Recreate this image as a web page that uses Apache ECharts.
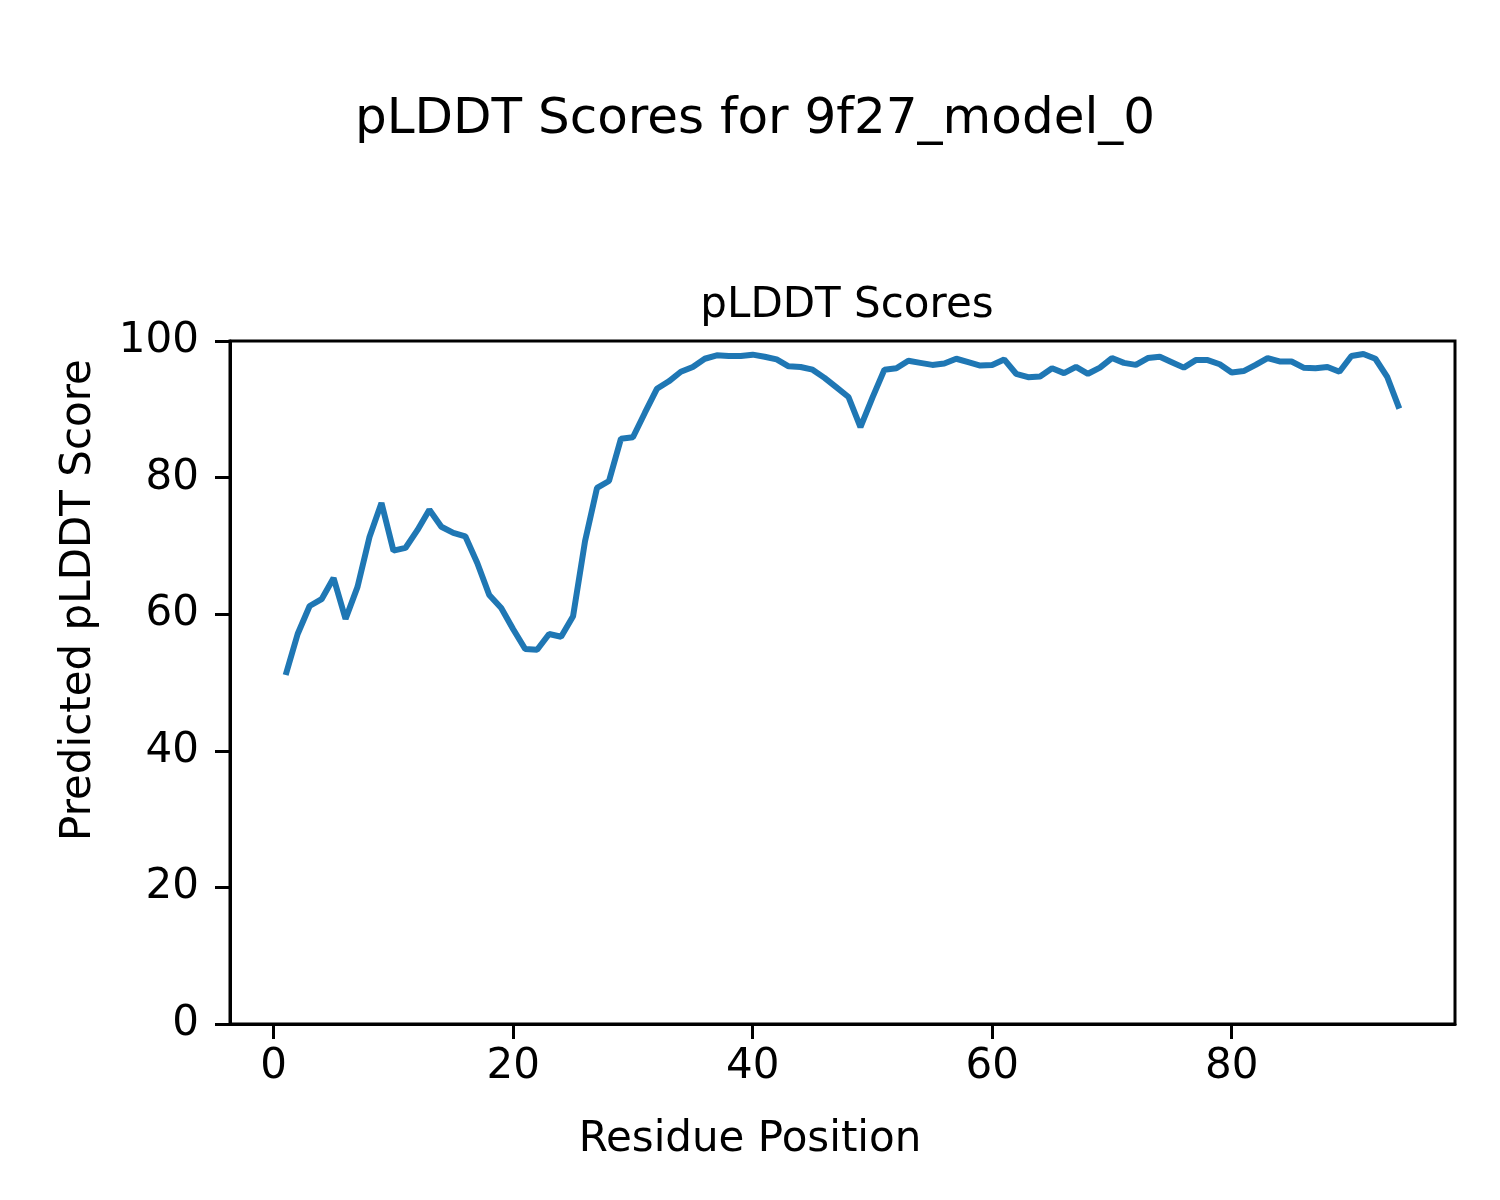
<!DOCTYPE html>
<html>
<head>
<meta charset="utf-8">
<script src="https://cdn.jsdelivr.net/npm/echarts@6/dist/echarts.min.js"></script>
<style>
html,body{margin:0;padding:0;background:#fff;}
#chart{width:1500px;height:1200px;}
</style>
</head>
<body>
<div id="chart"></div>
<script>
const residues = [];
for (let i = 1; i <= 94; i++) residues.push(i);
const plddt = [
  51.1, 57.1, 61.2, 62.2, 65.3, 59.3, 64.0, 71.3, 76.3, 69.3,
  69.7, 72.3, 75.3, 72.8, 71.9, 71.4, 67.5, 62.8, 60.9, 57.8,
  54.9, 54.8, 57.1, 56.7, 59.7, 70.7, 78.5, 79.5, 85.7, 85.9,
  89.5, 93.0, 94.1, 95.5, 96.2, 97.4, 97.9, 97.8, 97.8, 98.0,
  97.7, 97.3, 96.3, 96.2, 95.8, 94.6, 93.2, 91.8, 87.4, 91.7,
  95.8, 96.0, 97.1, 96.8, 96.5, 96.7, 97.4, 96.9, 96.4, 96.5,
  97.3, 95.2, 94.7, 94.8, 96.0, 95.3, 96.2, 95.2, 96.1, 97.5,
  96.8, 96.5, 97.5, 97.7, 96.9, 96.1, 97.2, 97.2, 96.6, 95.4,
  95.6, 96.5, 97.5, 97.0, 97.0, 96.1, 96.0, 96.2, 95.5, 97.8,
  98.1, 97.4, 94.7, 90.1
];
const xTicks = [0, 20, 40, 60, 80];
const yTicks = [0, 20, 40, 60, 80, 100];

const FONT = 'DejaVu Sans';
const chart = echarts.init(document.getElementById('chart'), null, {renderer: 'canvas'});
chart.setOption({
  backgroundColor: '#ffffff',
  animation: false,
  title: [
    {text: 'pLDDT Scores for 9f27_model_0', left: 750, top: 90, textAlign: 'center',
     textStyle: {fontFamily: FONT, fontSize: 50, fontWeight: 'normal', color: '#000'}},
    {text: 'pLDDT Scores', left: 842, top: 280, textAlign: 'center',
     textStyle: {fontFamily: FONT, fontSize: 42, fontWeight: 'normal', color: '#000'}}
  ],
  grid: {left: 230, right: 45, top: 341, bottom: 176, containLabel: false},
  xAxis: {
    type: 'value', min: -3.65, max: 98.65,
    axisLine: {show: true, onZero: false, lineStyle: {color: '#000', width: 3}},
    axisTick: {show: true, customValues: xTicks, length: 15, lineStyle: {color: '#000', width: 3}},
    axisLabel: {customValues: xTicks, margin: 22, fontFamily: FONT, fontSize: 42, color: '#000'},
    splitLine: {show: false}
  },
  yAxis: {
    type: 'value', min: 0, max: 100, interval: 20,
    axisLine: {show: true, onZero: false, lineStyle: {color: '#000', width: 3}},
    axisTick: {show: true, length: 15, lineStyle: {color: '#000', width: 3}},
    axisLabel: {margin: 31, fontFamily: FONT, fontSize: 42, color: '#000'},
    splitLine: {show: false}
  },
  series: [{
    type: 'line',
    data: residues.map((r, i) => [r, plddt[i]]),
    showSymbol: false,
    lineStyle: {color: '#1f77b4', width: 6},
    itemStyle: {color: '#1f77b4'}
  }],
  graphic: [
    {type: 'rect', shape: {x: 230, y: 341, width: 1225, height: 683}, style: {fill: 'none', stroke: '#000', lineWidth: 3}, silent: true, z: 10},
    {type: 'text', x: 750, y: 1140, silent: true,
     style: {text: 'Residue Position', fontFamily: FONT, fontSize: 42, fill: '#000', textAlign: 'center', textVerticalAlign: 'middle'}},
    {type: 'text', x: 79, y: 600, rotation: Math.PI / 2, silent: true,
     style: {text: 'Predicted pLDDT Score', fontFamily: FONT, fontSize: 42, fill: '#000', textAlign: 'center', textVerticalAlign: 'middle'}}
  ]
});
</script>
</body>
</html>
